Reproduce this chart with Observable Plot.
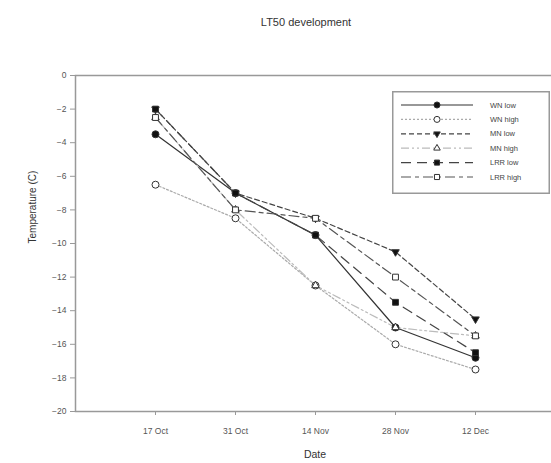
<!DOCTYPE html>
<html>
<head>
<meta charset="utf-8">
<script src="https://cdn.jsdelivr.net/npm/d3@7"></script>
<script src="https://cdn.jsdelivr.net/npm/@observablehq/plot@0.6"></script>
<style>
  html, body { margin: 0; padding: 0; background: #fff; }
  #chart { position: relative; width: 551px; height: 463px; overflow: hidden; }
  #legend { position: absolute; left: 392px; top: 91px; }
</style>
</head>
<body>
<div id="chart"></div>
<script>
// ---- data ----
const dateLabels = ["17 Oct", "31 Oct", "14 Nov", "28 Nov", "12 Dec"];
const dayOffsets = [0, 14, 28, 42, 56];
const seriesNames = ["WN low", "WN high", "MN low", "MN high", "LRR low", "LRR high"];
const wnLow   = [-3.5, -7, -9.5, -15, -16.8];
const wnHigh  = [-6.5, -8.5, -12.5, -16, -17.5];
const mnLow   = [-2, -7, -8.5, -10.5, -14.5];
const mnHigh  = [-2.5, -8, -12.5, -15, -15.5];
const lrrLow  = [-2, -7, -9.5, -13.5, -16.5];
const lrrHigh = [-2.5, -8, -8.5, -12, -15.5];
const yTicks = [0, -2, -4, -6, -8, -10, -12, -14, -16, -18, -20];

const seriesValues = [wnLow, wnHigh, mnLow, mnHigh, lrrLow, lrrHigh];

// ---- styles ----
const triDown = {
  draw(ctx, size) {
    const y = Math.sqrt(size / (Math.sqrt(3) * 3));
    ctx.moveTo(0, 2 * y);
    ctx.lineTo(-Math.sqrt(3) * y, -y);
    ctx.lineTo(Math.sqrt(3) * y, -y);
    ctx.closePath();
  }
};
const styles = {
  "WN low":   {stroke: "#333", dash: null,          symbol: "circle",   fill: "#111", r: 3.5},
  "WN high":  {stroke: "#aaa", dash: "2,2",         symbol: "circle",   fill: "#fff", r: 3.5},
  "MN low":   {stroke: "#444", dash: "5,3",         symbol: triDown,    fill: "#111", r: 2.8},
  "MN high":  {stroke: "#bbb", dash: "8,3,2,3,2,3", symbol: "triangle", fill: "#fff", r: 2.8},
  "LRR low":  {stroke: "#444", dash: "10,6",        symbol: "square",   fill: "#111", r: 3.3},
  "LRR high": {stroke: "#555", dash: "10,4,4,4",    symbol: "square",   fill: "#fff", r: 3.3}
};

const rows = [];
seriesNames.forEach((s, i) => {
  seriesValues[i].forEach((v, j) => rows.push({series: s, day: dayOffsets[j], date: dateLabels[j], value: v}));
});

const W = 551, H = 463;
const mL = 75, mR = -3, mT = 75, mB = 52;
const pxPerDay = 80 / 14;
const xMin = -14;
const xMax = xMin + (W - mR - mL) / pxPerDay;

const marks = [
  Plot.frame({stroke: "#999", strokeWidth: 1.5}),
  Plot.axisY({ticks: yTicks, tickSize: 5, tickPadding: 4, fontSize: 8.5, stroke: "#999", fill: "#555", label: null}),
  Plot.axisX({ticks: dayOffsets, tickFormat: d => dateLabels[dayOffsets.indexOf(d)], tickSize: 4, tickPadding: 12, fontSize: 8.5, stroke: "#999", fill: "#555", label: null}),
  Plot.text(["Temperature (C)"], {frameAnchor: "left", dx: -43, rotate: -90, fontSize: 10, fill: "#333"}),
  Plot.text(["Date"], {frameAnchor: "bottom", dx: 0, dy: 46, fontSize: 10.5, fill: "#333"}),
  Plot.text(["LT50 development"], {frameAnchor: "top", dx: -9, dy: -57, fontSize: 11, fill: "#333", letterSpacing: 1})
];
seriesNames.forEach(s => {
  const st = styles[s];
  marks.push(Plot.line(rows.filter(r => r.series === s), {x: "day", y: "value", stroke: st.stroke, strokeWidth: 1.2, strokeDasharray: st.dash}));
});
seriesNames.forEach(s => {
  const st = styles[s];
  marks.push(Plot.dot(rows.filter(r => r.series === s), {x: "day", y: "value", symbol: st.symbol, r: st.r, fill: st.fill, stroke: "#333", strokeWidth: 1}));
});

const plot = Plot.plot({
  width: W, height: H,
  marginLeft: mL, marginRight: mR, marginTop: mT, marginBottom: mB,
  style: {fontFamily: "Liberation Sans, Arial, sans-serif", background: "#fff", overflow: "hidden"},
  x: {type: "linear", domain: [xMin, xMax]},
  y: {domain: [-20, 0]},
  marks
});
document.getElementById("chart").appendChild(plot);

// ---- legend ----
const lw = 158, lh = 103;
const leg = d3.select("#chart").append("svg").attr("id", "legend").attr("width", lw).attr("height", lh)
  .style("font-family", "Liberation Sans, Arial, sans-serif");
leg.append("rect").attr("x", 0.75).attr("y", 0.75).attr("width", lw - 1.5).attr("height", lh - 1.5)
  .attr("fill", "#fff").attr("stroke", "#999").attr("stroke-width", 1.5);
seriesNames.forEach((s, i) => {
  const st = styles[s];
  const y = 14 + i * 14.4;
  leg.append("line").attr("x1", 9).attr("x2", 81).attr("y1", y).attr("y2", y)
    .attr("stroke", st.stroke).attr("stroke-width", 1.2).attr("stroke-dasharray", st.dash);
  const size = Math.PI * st.r * st.r * 0.75;
  const sym = typeof st.symbol === "string"
    ? d3.symbol({circle: d3.symbolCircle, triangle: d3.symbolTriangle, square: d3.symbolSquare}[st.symbol], size)
    : d3.symbol(st.symbol, size);
  leg.append("path").attr("d", sym()).attr("transform", `translate(45,${y})`)
    .attr("fill", st.fill).attr("stroke", "#333").attr("stroke-width", 1);
  leg.append("text").attr("x", 98).attr("y", y).attr("dy", "0.35em").attr("font-size", 7.5).attr("fill", "#444").text(s);
});
</script>
</body>
</html>
